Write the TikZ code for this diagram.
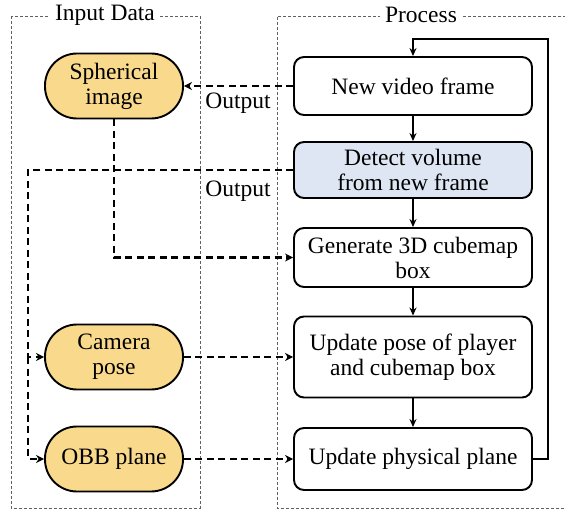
\documentclass[tikz,border=0pt]{standalone}
\usepackage{fontspec}
\setmainfont{Liberation Serif}
\usetikzlibrary{arrows.meta}
\definecolor{inputfill}{HTML}{F9D98B}
\definecolor{detectfill}{HTML}{DDE6F2}
\definecolor{groupline}{HTML}{606060}
\tikzset{
  every node/.style={font=\fontsize{23.5}{25}\selectfont},
  groupbox/.style={draw=groupline, line width=0.8pt, dash pattern=on 3pt off 2pt},
  grouptitle/.style={fill=white, inner xsep=5pt, inner ysep=1pt},
  stepbox/.style={draw, line width=1.9pt, rounded corners=10pt, fill=white,
    minimum width=238pt, align=center, inner sep=2pt},
  databox/.style={draw, line width=1.9pt, rounded corners=32pt, fill=inputfill,
    minimum width=138pt, minimum height=65pt, align=center, inner sep=2pt},
  sconn/.style={line width=2pt, -{Stealth[length=8pt, width=7pt]}},
  dconn/.style={line width=2.8pt, dash pattern=on 7pt off 4.5pt,
    -{Stealth[length=8pt, width=8pt]}},
  lbl/.style={inner sep=1pt}
}
\begin{document}
\begin{tikzpicture}[x=1pt, y={(0,-1pt)}]
\useasboundingbox (0,0) rectangle (565,513);

% group frames
\draw[groupbox] (11,16) rectangle (200,508);
\draw[groupbox] (566,16) -- (277,16) -- (277,508) -- (566,508);
\node[grouptitle] (tin) at (105,15) {Input Data};
\node[grouptitle] (tpr) at (421,15) {Process};

% process steps
\node[stepbox, minimum height=58pt] (nvf) at (413,86) {New video frame};
\node[stepbox, minimum height=56pt, fill=detectfill] (det) at (413,170) {Detect volume\\from new frame};
\node[stepbox, minimum height=59pt] (gen) at (413,257.5) {Generate 3D cubemap\\box};
\node[stepbox, minimum height=81pt] (upd) at (413,357) {Update pose of player\\and cubemap box};
\node[stepbox, minimum height=62pt] (phy) at (413,459) {Update physical plane};

% input data
\node[databox] (sph) at (114,86) {Spherical\\image};
\node[databox] (cam) at (114,357) {Camera\\pose};
\node[databox] (obb) at (114,459) {OBB plane};

% main flow
\draw[sconn] (nvf) -- (det);
\draw[sconn] (det) -- (gen);
\draw[sconn] (gen) -- (upd);
\draw[sconn] (upd) -- (phy);
\coordinate (loop) at (548,39);
\draw[sconn] (phy.east) -| (loop) -| (nvf.north);

% data exchanges
\draw[dconn] (nvf.west) -- (sph.east);
\node[lbl] (out1) at (238,103) {Output};
\coordinate (lft) at (28,170);
\draw[dconn] (det.west) -- (lft) |- (cam.west);
\draw[dconn] (lft |- cam.west) |- (obb.west);
\node[lbl] (out2) at (238,191) {Output};
\draw[dconn] (sph.south) |- (gen.west);
\draw[dconn] (cam.east) -- (upd.west);
\draw[dconn] (obb.east) -- (phy.west);
\end{tikzpicture}
\end{document}
